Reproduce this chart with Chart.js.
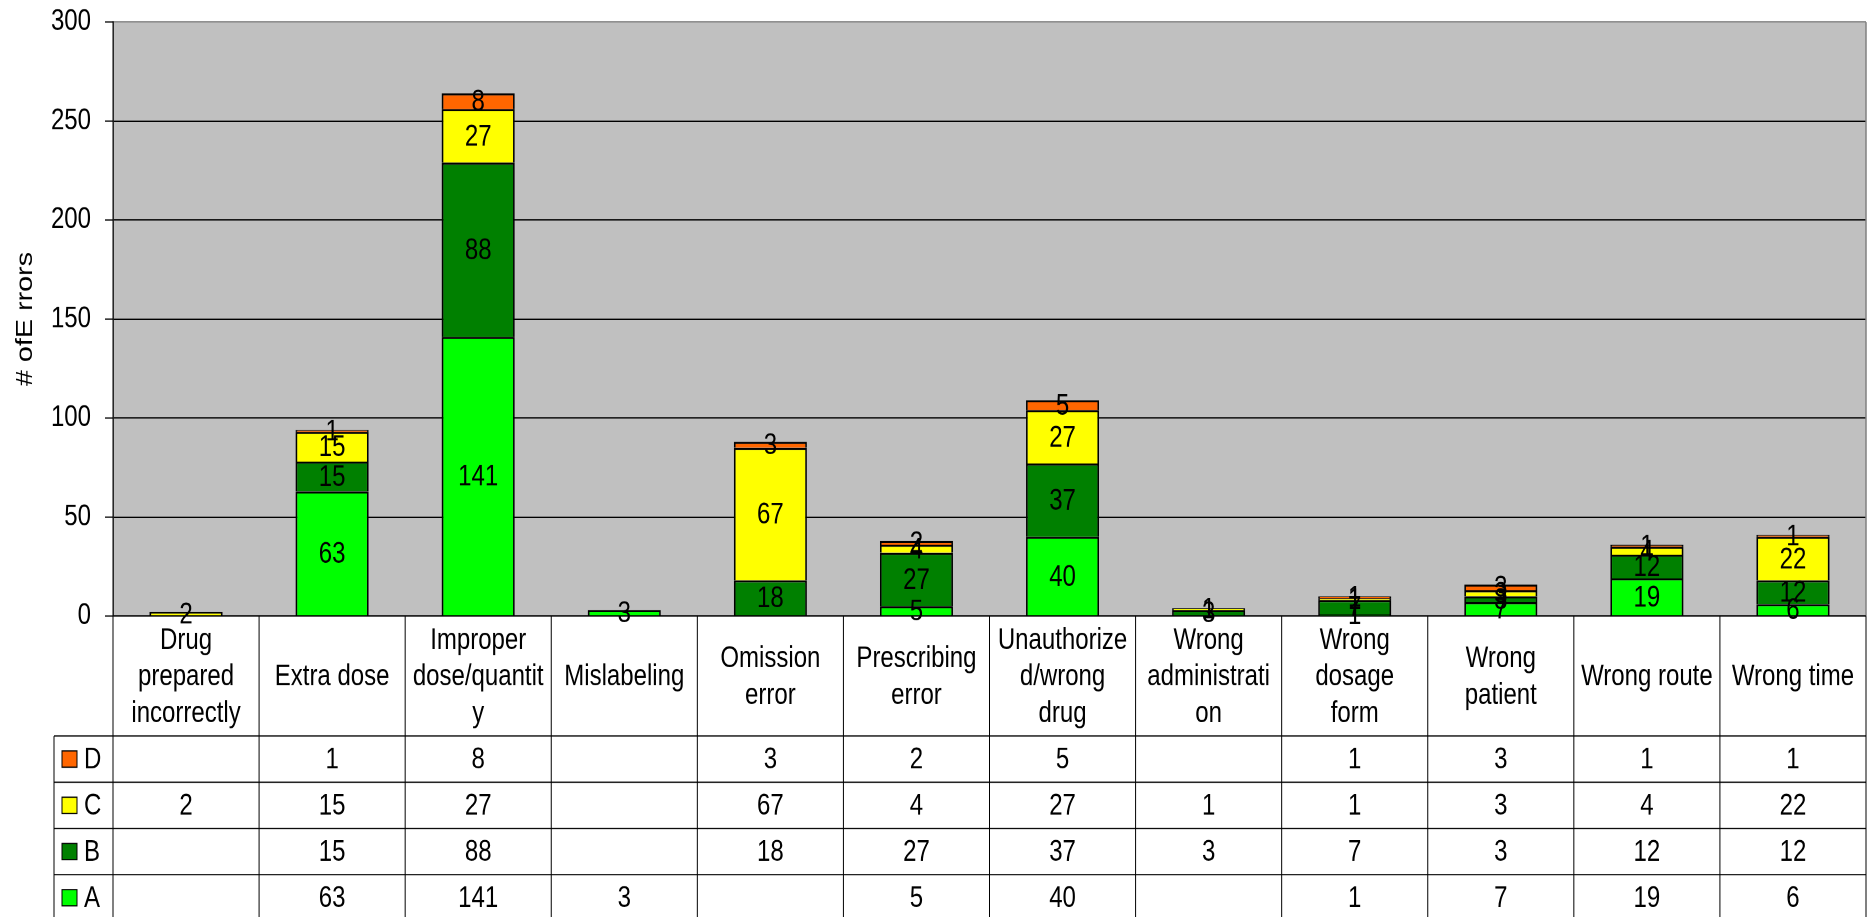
<!DOCTYPE html>
<html>
<head>
<meta charset="utf-8">
<title>Errors by type</title>
<script src="https://cdn.jsdelivr.net/npm/chart.js@4"></script>
<style>
  html { overflow: hidden; }
  body { margin: 0; padding: 0; background: #fff; height: 917px; }
  /* the sheet is drawn short and stretched tall, like the exported workbook chart */
  #wrap { width: 1875px; height: 734px; transform: scaleY(1.2493); transform-origin: 0 0; }
</style>
</head>
<body>
<div id="wrap"><canvas id="errorsChart" width="1875" height="734"></canvas></div>
<script>
// categories, wrapped the way the table header wraps them
const categories = [
  ['Drug', 'prepared', 'incorrectly'],
  ['Extra dose'],
  ['Improper', 'dose/quantit', 'y'],
  ['Mislabeling'],
  ['Omission', 'error'],
  ['Prescribing', 'error'],
  ['Unauthorize', 'd/wrong', 'drug'],
  ['Wrong', 'administrati', 'on'],
  ['Wrong', 'dosage', 'form'],
  ['Wrong', 'patient'],
  ['Wrong route'],
  ['Wrong time']
];

// error counts per severity (null = empty cell)
const valuesA = [null, 63, 141, 3, null, 5, 40, null, 1, 7, 19, 6];
const valuesB = [null, 15, 88, null, 18, 27, 37, 3, 7, 3, 12, 12];
const valuesC = [2, 15, 27, null, 67, 4, 27, 1, 1, 3, 4, 22];
const valuesD = [null, 1, 8, null, 3, 2, 5, null, 1, 3, 1, 1];

const yMin = 0;
const yMax = 300;
const yStep = 50;
const yTitle = '# ofE rrors';

const FONT = '"Liberation Sans", Arial, sans-serif';
const HEADER_H = 96;
const ROW_H = 37;
const LEGEND_LEFT = 54;
const TICK_MARK = 8;

Chart.defaults.font.family = FONT;
Chart.defaults.color = '#000';

const series = [
  { label: 'A', data: valuesA, color: '#00ff00' },
  { label: 'B', data: valuesB, color: '#008000' },
  { label: 'C', data: valuesC, color: '#ffff00' },
  { label: 'D', data: valuesD, color: '#ff6600' }
];

// grey plot background, grey right frame and the short y tick marks
const plotFrame = {
  id: 'plotFrame',
  beforeDraw(chart) {
    const { ctx, chartArea: a } = chart;
    ctx.save();
    ctx.fillStyle = '#c0c0c0';
    ctx.fillRect(a.left, a.top, a.right - a.left, a.bottom - a.top);
    ctx.restore();
  },
  afterDraw(chart) {
    const { ctx, chartArea: a } = chart;
    const y = chart.scales.y;
    ctx.save();
    ctx.strokeStyle = '#808080';
    ctx.lineWidth = 1.5;
    ctx.beginPath();
    ctx.moveTo(a.right, a.top);
    ctx.lineTo(a.right, a.bottom);
    ctx.stroke();
    ctx.strokeStyle = '#000';
    ctx.lineWidth = 1;
    ctx.beginPath();
    y.ticks.forEach(t => {
      const py = y.getPixelForValue(t.value);
      ctx.moveTo(a.left - TICK_MARK, py);
      ctx.lineTo(a.left, py);
    });
    ctx.stroke();
    ctx.restore();
  }
};

// value printed in the middle of every segment
const segmentLabels = {
  id: 'segmentLabels',
  afterDatasetsDraw(chart) {
    const ctx = chart.ctx;
    ctx.save();
    ctx.font = '24px ' + FONT;
    ctx.fillStyle = '#000';
    ctx.textAlign = 'center';
    ctx.textBaseline = 'middle';
    chart.data.datasets.forEach((ds, i) => {
      chart.getDatasetMeta(i).data.forEach((bar, j) => {
        const v = ds.data[j];
        if (v == null) return;
        ctx.fillText(String(v), bar.x, (bar.y + bar.base) / 2 + 1);
      });
    });
    ctx.restore();
  }
};

// data table under the plot: header row with category names, then D, C, B, A
const dataTable = {
  id: 'dataTable',
  afterDraw(chart) {
    const { ctx, chartArea: a } = chart;
    const n = categories.length;
    const colW = (a.right - a.left) / n;
    const top = a.bottom;
    const headBottom = top + HEADER_H;
    const rows = series.slice().reverse();
    const bottom = headBottom + rows.length * ROW_H;

    ctx.save();
    ctx.strokeStyle = '#000';
    ctx.lineWidth = 1;
    ctx.beginPath();
    ctx.moveTo(a.left, top);
    ctx.lineTo(a.right, top);
    for (let r = 0; r <= rows.length; r++) {
      const y = headBottom + r * ROW_H;
      ctx.moveTo(LEGEND_LEFT, y);
      ctx.lineTo(a.right, y);
    }
    ctx.moveTo(LEGEND_LEFT, headBottom);
    ctx.lineTo(LEGEND_LEFT, bottom);
    for (let c = 0; c <= n; c++) {
      const x = a.left + c * colW;
      ctx.moveTo(x, top);
      ctx.lineTo(x, bottom);
    }
    ctx.stroke();

    ctx.font = '24px ' + FONT;
    ctx.fillStyle = '#000';
    ctx.textBaseline = 'middle';

    // header text
    ctx.textAlign = 'center';
    const lineH = 29.4;
    categories.forEach((lines, c) => {
      const cx = a.left + (c + 0.5) * colW;
      const cy = top + HEADER_H / 2;
      lines.forEach((t, k) => {
        ctx.fillText(t, cx, cy + (k - (lines.length - 1) / 2) * lineH + 1);
      });
    });

    // legend keys and values
    rows.forEach((s, r) => {
      const cy = headBottom + (r + 0.5) * ROW_H;
      ctx.fillStyle = s.color;
      ctx.fillRect(62, cy - 6.5, 15, 13);
      ctx.strokeRect(62, cy - 6.5, 15, 13);
      ctx.fillStyle = '#000';
      ctx.textAlign = 'left';
      ctx.fillText(s.label, 84, cy + 1);
      ctx.textAlign = 'center';
      s.data.forEach((v, c) => {
        if (v == null) return;
        ctx.fillText(String(v), a.left + (c + 0.5) * colW, cy + 1);
      });
    });
    ctx.restore();
  }
};

new Chart(document.getElementById('errorsChart'), {
  type: 'bar',
  data: {
    labels: categories.map(l => l.join(' ')),
    datasets: series.map(s => ({
      label: s.label,
      data: s.data,
      backgroundColor: s.color,
      borderColor: '#000',
      borderWidth: 1.7,
      categoryPercentage: 1,
      barPercentage: 0.5
    }))
  },
  options: {
    responsive: false,
    animation: false,
    devicePixelRatio: 2,
    layout: { padding: { top: 17.6, right: 9, bottom: 240.9, left: 0 } },
    plugins: {
      legend: { display: false },
      tooltip: { enabled: false }
    },
    scales: {
      x: { stacked: true, display: false },
      y: {
        stacked: true,
        min: yMin,
        max: yMax,
        afterFit(scale) { scale.width = 113; },
        ticks: {
          stepSize: yStep,
          padding: 0,
          font: { size: 24 },
          color: '#000'
        },
        grid: {
          color: ctx => (ctx.tick && ctx.tick.value === yMax ? '#808080' : '#000'),
          lineWidth: 1,
          tickLength: 22,
          tickColor: 'rgba(0,0,0,0)'
        },
        border: { display: true, color: '#000', width: 1.3 },
        title: {
          display: true,
          text: yTitle,
          font: { size: 23 },
          color: '#000',
          padding: { top: 12, bottom: 0 }
        }
      }
    }
  },
  plugins: [plotFrame, segmentLabels, dataTable]
});
</script>
</body>
</html>
